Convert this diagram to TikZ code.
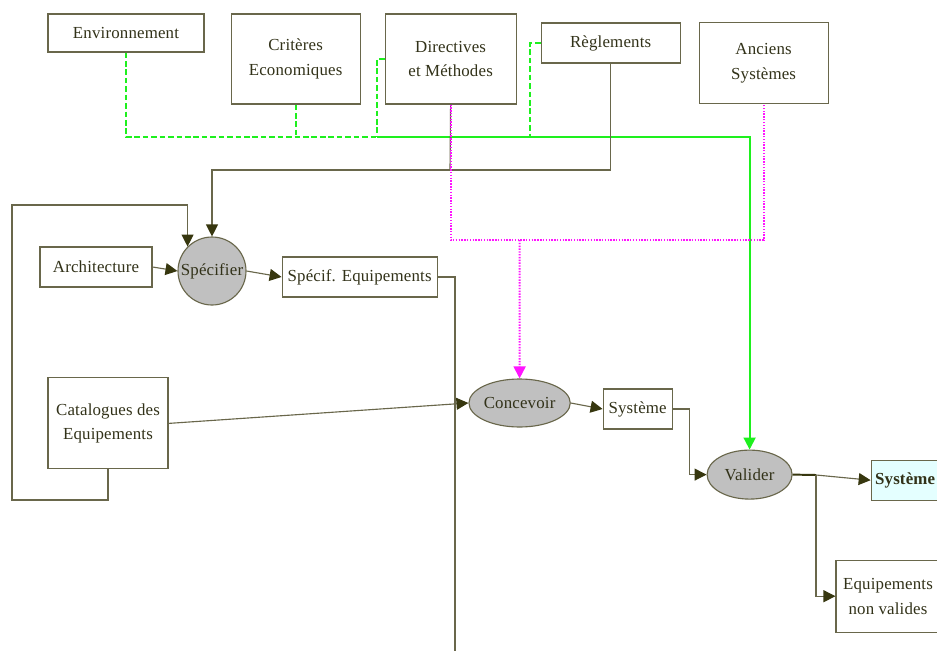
\documentclass[tikz,border=0pt]{standalone}
\usepackage{fontspec}
\setmainfont{Liberation Serif}[LetterSpace=1]
\usepackage{tikz}
\usetikzlibrary{shapes, shapes.geometric, arrows.meta, positioning, calc}
\definecolor{boxline}{RGB}{105,103,75}
\definecolor{flowdark}{RGB}{55,55,15}
\definecolor{txtdark}{RGB}{50,50,25}
\definecolor{procgray}{RGB}{192,192,192}
\definecolor{outcyan}{RGB}{228,255,255}
\definecolor{ctrlgreen}{RGB}{30,240,30}
\definecolor{ctrlpink}{RGB}{255,20,255}
\tikzstyle{databox} = [rectangle, align=center, inner sep=1pt, draw=boxline, line width=0.8pt, fill=white, text=txtdark, font=\fontsize{12}{17.5}\selectfont]
\tikzstyle{procround} = [circle, minimum size=1.7cm, inner sep=0pt, draw=boxline, line width=0.8pt, fill=procgray, text=txtdark, font=\fontsize{12}{17.5}\selectfont]
\tikzstyle{procoval} = [ellipse, inner sep=0pt, draw=boxline, line width=0.8pt, fill=procgray, text=txtdark, font=\fontsize{12}{17.5}\selectfont]
\tikzstyle{flowline} = [draw=boxline, line width=0.8pt]
\tikzstyle{flow} = [flowline, -{Triangle[length=8.5pt,width=8.5pt,color=flowdark]}]
\tikzstyle{greendash} = [draw=ctrlgreen, line width=1.3pt, dash pattern=on 4pt off 2pt]
\tikzstyle{pinkdot} = [draw=ctrlpink, line width=1.3pt, dash pattern=on 1pt off 1pt]

\begin{document}
\begin{tikzpicture}[node distance=4cm]
\path[use as bounding box, fill=white] (0,0) rectangle (23.425,-16.275);
\clip (0,0) rectangle (23.425,-16.275);
% inputs on top
\node (env) [databox, minimum width=3.9cm, minimum height=0.95cm] at (3.15,-0.825) {Environnement};
\node (crit) [databox, minimum width=3.225cm, minimum height=2.25cm, right of=env, xshift=0.24cm, yshift=-0.65cm] {Critères\\Economiques};
\node (dir) [databox, minimum width=3.275cm, minimum height=2.25cm, right of=crit, xshift=-0.125cm] {Directives\\et Méthodes};
\node (regl) [databox, minimum width=3.475cm, minimum height=1cm, right of=dir, yshift=0.4cm] {Règlements};
\node (anc) [databox, minimum width=3.225cm, minimum height=2.025cm, right of=regl, xshift=-0.175cm, yshift=-0.51cm] {Anciens\\Systèmes};
% activities
\node (spec) [procround, below of=env, xshift=2.15cm, yshift=-1.95cm] {Spécifier};
\node (arch) [databox, minimum width=2.8cm, minimum height=1cm, left of=spec, xshift=1.1cm, yshift=0.1cm] {Architecture};
\node (speceq) [databox, minimum width=3.875cm, minimum height=1cm, right of=spec, xshift=-0.31cm, yshift=-0.15cm] {Spécif. Equipements};
\node (cat) [databox, minimum width=3cm, minimum height=2.275cm, below of=arch, xshift=0.3cm, yshift=0.09cm] {Catalogues des\\Equipements};
\node (conc) [procoval, minimum width=2.375cm, minimum height=1.2cm, right of=cat, xshift=6.29cm, yshift=0.51cm] {Concevoir};
\node (sys) [databox, minimum width=1.725cm, minimum height=1cm, right of=conc, xshift=-1.05cm, yshift=-0.15cm] {Système};
\node (val) [procoval, minimum width=2.125cm, minimum height=1.225cm, right of=sys, xshift=-1.2cm, yshift=-1.64cm] {Valider};
\node (sysout) [databox, fill=outcyan, minimum width=1.7cm, minimum height=1cm, right of=val, xshift=-0.11cm, yshift=-0.14cm] {\textbf{Système}};
\node (eqnv) [databox, minimum width=2.6cm, minimum height=1.8cm, below of=val, xshift=3.46cm, yshift=0.96cm] {Equipements\\non valides};
% bends
\coordinate (gbus) at (9.425,-3.425);
\coordinate (rjoin) at (13.25,-3.425);
\coordinate (dbus) at (11.25,-4.25);
\coordinate (mbus) at (12.99,-6.0);
\coordinate (lpbot) at (0.3,-12.5);
\coordinate (lptop) at (0.3,-5.125);
\coordinate (eqend) at (11.375,-16.4);
\coordinate (vsplit) at (20.4,-11.875);
% controls
\draw[greendash] (env.south) |- (gbus);
\draw[greendash] (crit.south) -- (crit.south |- gbus);
\draw[greendash] (dir.west) -| (gbus);
\draw[greendash] (regl.west) -| (rjoin) -- (val.north |- rjoin);
\draw[draw=ctrlgreen, line width=1.3pt, -{Triangle[length=8.5pt,width=8.5pt]}] (gbus) -| (val.north);
\draw[flowline, draw=flowdark, line width=1.6pt] (dbus) -- (dbus -| spec.north);
\draw[flow] (regl.south) |- (dbus) -| (spec.north);
\draw[flowline] (dir.south) -- (dbus);
\draw[pinkdot] (dir.south) |- (mbus) -| (anc.south);
\draw[pinkdot, -{Triangle[length=8.5pt,width=8.5pt]}] (mbus) -- (conc.north);
% flows
\draw[flow] (cat.south) |- (lpbot) -- (lptop) -| (spec.north west);
\draw[flow] (arch.east) -- (spec.west);
\draw[flow] (spec.east) -- (speceq.west);
\draw[flowline] (speceq.east) -| (eqend);
\draw[flow] (cat.east) -- (conc.west);
\draw[flow] (conc.east) -- (sys.west);
\draw[flow] (sys.east) -- ++(0.425,0) |- (val.west);
\draw[flowline, draw=flowdark, line width=1.4pt] (val.east) -- (vsplit);
\draw[flow] (vsplit) -- (sysout.west);
\draw[flow] (vsplit) |- (eqnv.west);
\end{tikzpicture}
\end{document}
